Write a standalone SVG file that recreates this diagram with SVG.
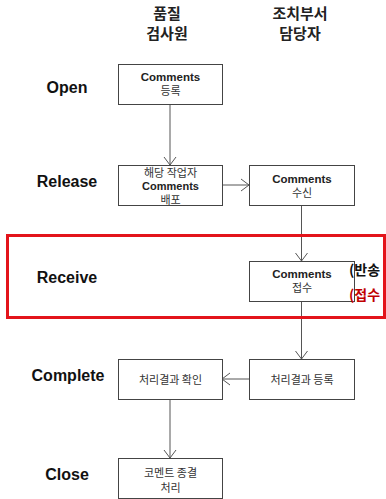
<svg xmlns="http://www.w3.org/2000/svg" width="386" height="499" viewBox="0 0 386 499">
  <style>
    .hdr { font-family: "Liberation Sans", "Noto Sans CJK KR", sans-serif; font-weight: bold; font-size: 15px; fill: #222; text-anchor: middle; }
    .stage { font-family: "Liberation Sans", "Noto Sans CJK KR", sans-serif; font-weight: bold; font-size: 16px; fill: #111; text-anchor: middle; }
    .box { fill: #fff; stroke: #444; stroke-width: 1; }
    .en { font-family: "Liberation Sans", "Noto Sans CJK KR", sans-serif; font-weight: bold; font-size: 11.5px; fill: #222; text-anchor: middle; }
    .en-s { font-size: 11px; }
    .ko { font-family: "Noto Sans CJK KR", sans-serif; font-size: 11px; fill: #333; text-anchor: middle; }
    .conn { stroke: #555; stroke-width: 1; fill: none; marker-end: url(#open); }
    .note { font-family: "Noto Sans CJK KR", sans-serif; font-weight: bold; font-size: 14px; }
  </style>
  <defs>
    <marker id="open" viewBox="-10 -8 12 16" refX="0" refY="0" markerWidth="12" markerHeight="16" markerUnits="userSpaceOnUse" orient="auto">
      <path d="M-8,-6 L0,0 L-8,6" fill="none" stroke="#555" stroke-width="1"/>
    </marker>
  </defs>
  <rect width="386" height="499" fill="#fff"/>

  <!-- column headers -->
  <g id="col-inspector">
    <text class="hdr" x="167" y="19">품질</text>
    <text class="hdr" x="167" y="39">검사원</text>
  </g>
  <g id="col-owner">
    <text class="hdr" x="300" y="19">조치부서</text>
    <text class="hdr" x="300" y="39">담당자</text>
  </g>

  <!-- stage labels -->
  <g id="stages">
    <text class="stage" x="67" y="93">Open</text>
    <text class="stage" x="67" y="187">Release</text>
    <text class="stage" x="67" y="283">Receive</text>
    <text class="stage" x="68" y="381">Complete</text>
    <text class="stage" x="67" y="480">Close</text>
  </g>

  <!-- connectors -->
  <g id="connectors">
    <line class="conn" x1="170" y1="104" x2="170" y2="165"/>
    <line class="conn" x1="222" y1="185" x2="249" y2="185"/>
    <line class="conn" x1="301.5" y1="205" x2="301.5" y2="261"/>
    <line class="conn" x1="301.5" y1="301" x2="301.5" y2="359"/>
    <line class="conn" x1="249" y1="379" x2="222" y2="379"/>
    <line class="conn" x1="170" y1="399" x2="170" y2="458"/>
  </g>

  <g id="n-register">
    <rect class="box" x="118.5" y="64.5" width="104" height="40"/>
    <text class="en" x="170.5" y="81">Comments</text>
    <text class="ko" x="170.5" y="95">등록</text>
  </g>

  <g id="n-distribute">
    <rect class="box" x="118.5" y="165.5" width="104" height="40"/>
    <text class="ko" x="170.5" y="176.5">해당 작업자</text>
    <text class="en en-s" x="170.5" y="190">Comments</text>
    <text class="ko" x="170.5" y="203.5">배포</text>
  </g>

  <g id="n-receive">
    <rect class="box" x="249.5" y="165.5" width="105" height="40"/>
    <text class="en" x="302" y="183">Comments</text>
    <text class="ko" x="302" y="197">수신</text>
  </g>

  <g id="n-accept">
    <rect class="box" x="249.5" y="261.5" width="105" height="40"/>
    <text class="en" x="302" y="278">Comments</text>
    <text class="ko" x="302" y="292">접수</text>
  </g>

  <g id="n-result-register">
    <rect class="box" x="249.5" y="359.5" width="105" height="40"/>
    <text class="ko" x="302" y="384">처리결과 등록</text>
  </g>

  <g id="n-result-check">
    <rect class="box" x="118.5" y="359.5" width="104" height="40"/>
    <text class="ko" x="170.5" y="384">처리결과 확인</text>
  </g>

  <g id="n-close">
    <rect class="box" x="118.5" y="458.5" width="104" height="40"/>
    <text class="ko" x="170.5" y="477">코멘트 종결</text>
    <text class="ko" x="170.5" y="492">처리</text>
  </g>

  <!-- side notes beside the accept step -->
  <g id="notes">
    <text class="note" x="349" y="275" fill="#111">(반송</text>
    <text class="note" x="349" y="300" fill="#c00000">(접수</text>
  </g>

  <!-- highlight frame around the Receive stage -->
  <rect id="highlight" x="7.5" y="235.5" width="377" height="82" fill="none" stroke="#e3141b" stroke-width="3"/>
</svg>
